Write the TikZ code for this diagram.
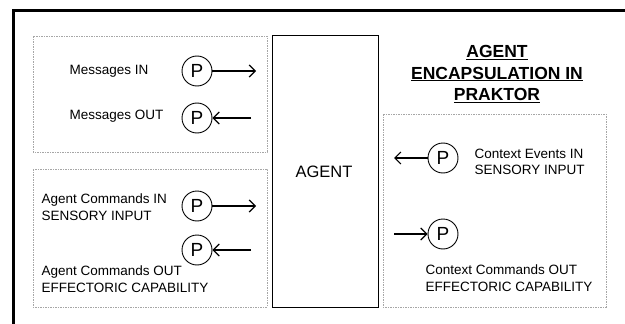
\documentclass[tikz,border=0pt]{standalone}
\usepackage{fontspec}
\setmainfont{Liberation Sans}
\usetikzlibrary{arrows.meta}
\begin{document}
\begin{tikzpicture}[x=1pt,y=-1pt,
	port/.style={draw, circle, line width=0.9pt, minimum size=30pt, inner sep=0pt, font=\fontsize{19}{19}\selectfont},
	lbl/.style={anchor=west, align=left, font=\fontsize{13.5}{16.5}\selectfont},
	arr/.style={line width=1.2pt, -{Straight Barb[length=6pt,width=12pt,line width=1.2pt]}},
	zone/.style={draw=gray!70, line width=0.7pt, dash pattern=on 2pt off 1.2pt on 0.6pt off 1.2pt}]
	\useasboundingbox (0,0) rectangle (625,324);
	% frame
	\draw[line width=3pt] (13,330) -- (13,10) -- (630,10);
	
	% zones
	\draw[zone] (33,36) rectangle (267,152);
	\draw[zone] (33,169) rectangle (267,307);
	\draw[zone] (383,114) rectangle (606,307);
	
	% agent
	\draw[line width=0.7pt] (272,35) rectangle (378,307);
	\node (A) at (324,172) {\fontsize{16.5}{16.5}\selectfont AGENT};
	
	\node (T) at (497,74) [align=center, font=\bfseries\fontsize{17.5}{21.5}\selectfont] {\underline{AGENT}\\\underline{ENCAPSULATION IN}\\\underline{PRAKTOR}};
	
	% messages
	\node[lbl] (M1) at (66,71) {Messages IN};
	\node[port] (P1) at (197,71) {P};
		\coordinate (E1) at (256,71);
		\draw[arr] (P1) -- (E1);
	\node[lbl] (M2) at (66,116) {Messages OUT};
	\node[port] (P2) at (197,118) {P};
		\coordinate (E2) at (251,118);
		\draw[arr] (E2) -- (P2);
	
	% agent commands
	\node[lbl] (M3) at (38,207) {Agent Commands IN\\SENSORY INPUT};
	\node[port] (P3) at (197,206) {P};
		\coordinate (E3) at (256,206);
		\draw[arr] (P3) -- (E3);
	\node[port] (P4) at (197,250) {P};
		\coordinate (E4) at (251,250);
		\draw[arr] (E4) -- (P4);
	\node[lbl] (M4) at (38,279) {Agent Commands OUT\\EFFECTORIC CAPABILITY};
	
	% context
	\node[port] (P5) at (443,158) {P};
		\coordinate (E5) at (394,158);
		\draw[arr] (P5) -- (E5);
	\node[lbl] (M5) at (471,162) {Context Events IN\\SENSORY INPUT};
	\node[port] (P6) at (443,234) {P};
		\coordinate (E6) at (394,234);
		\draw[arr] (E6) -- (P6);
	\node[lbl] (M6) at (422,278) {Context Commands OUT\\EFFECTORIC CAPABILITY};
\end{tikzpicture}
\end{document}
